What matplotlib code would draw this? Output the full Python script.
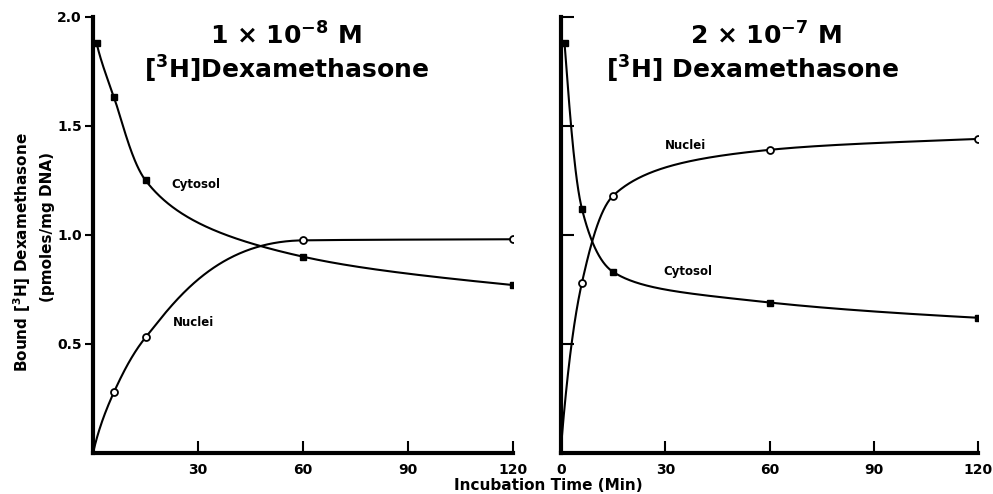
import numpy as np
import matplotlib.pyplot as plt

# incubation times (min) and bound dexamethasone (pmoles/mg DNA)
t_cyto = [1, 6, 15, 60, 120]
t_nuc = [0, 6, 15, 60, 120]

low_cytosol = [1.88, 1.63, 1.25, 0.90, 0.77]
low_nuclei = [0.0, 0.28, 0.53, 0.975, 0.98]

high_cytosol = [1.88, 1.12, 0.83, 0.69, 0.62]
high_nuclei = [0.03, 0.78, 1.18, 1.39, 1.44]

x_ticks_left = [30, 60, 90, 120]
x_ticks_right = [0, 30, 60, 90, 120]
y_ticks = [0.5, 1.0, 1.5, 2.0]
y_ticklabels = ["0.5", "1.0", "1.5", "2.0"]

plt.rcParams['font.family'] = ['DejaVu Sans']
plt.rcParams['font.weight'] = 'bold'


def smooth_line(x, y, xs):
    # monotone hermite drawn in log(t+5) so the line bends like the hand-drawn one
    x = np.log(np.asarray(x, float) + 5)
    xs = np.log(xs + 5)
    y = np.asarray(y, float)
    h = np.diff(x)
    d = np.diff(y) / h
    m = np.zeros_like(y)
    m[0] = d[0]
    m[-1] = d[-1]
    for k in range(1, len(x) - 1):
        if d[k - 1] * d[k] > 0:
            w1 = 2 * h[k] + h[k - 1]
            w2 = h[k] + 2 * h[k - 1]
            m[k] = (w1 + w2) / (w1 / d[k - 1] + w2 / d[k])
    idx = np.clip(np.searchsorted(x, xs) - 1, 0, len(x) - 2)
    hh = h[idx]
    s = (xs - x[idx]) / hh
    h00 = 2 * s**3 - 3 * s**2 + 1
    h10 = s**3 - 2 * s**2 + s
    h01 = -2 * s**3 + 3 * s**2
    h11 = s**3 - s**2
    return h00 * y[idx] + h10 * hh * m[idx] + h01 * y[idx + 1] + h11 * hh * m[idx + 1]


def draw_series(ax, t, vals, filled):
    xs = np.linspace(t[0], t[-1], 600)
    ax.plot(xs, smooth_line(t, vals, xs), color='black', lw=1.5, zorder=2)
    if filled:
        ax.plot(t, vals, ls='none', marker='s', ms=4.5, color='black', zorder=3)
    else:
        ax.plot(t[1:], vals[1:], ls='none', marker='o', ms=5, mfc='white',
                mec='black', mew=1.3, zorder=3)


fig = plt.figure(figsize=(9.93, 4.94), dpi=100)
ax1 = fig.add_axes([0.0937, 0.083, 0.423, 0.883])
ax2 = fig.add_axes([0.565, 0.083, 0.42, 0.883])

for ax in (ax1, ax2):
    ax.set_xlim(0, 120)
    ax.set_ylim(0, 2.0)
    for side in ('top', 'right'):
        ax.spines[side].set_visible(False)
    for side in ('left', 'bottom'):
        ax.spines[side].set_linewidth(3)
    ax.tick_params(axis='x', direction='in', length=9, width=1.5,
                   labelsize=10, pad=7)
    ax.set_yticks(y_ticks)

ax1.set_xticks(x_ticks_left)
ax2.set_xticks(x_ticks_right)
ax1.set_yticklabels(y_ticklabels)
ax1.tick_params(axis='y', direction='out', length=6, width=1.5, labelsize=10, pad=2)
ax2.set_yticklabels([])
ax2.tick_params(axis='y', direction='in', length=9, width=1.5)

draw_series(ax1, t_cyto, low_cytosol, True)
draw_series(ax1, t_nuc, low_nuclei, False)
draw_series(ax2, t_cyto, high_cytosol, True)
draw_series(ax2, t_nuc, high_nuclei, False)

ax1.text(29.4, 1.23, "Cytosol", fontsize=8.5, ha='center', va='center')
ax1.text(28.6, 0.60, "Nuclei", fontsize=8.5, ha='center', va='center')
ax2.text(35.7, 1.41, "Nuclei", fontsize=8.5, ha='center', va='center')
ax2.text(36.5, 0.83, "Cytosol", fontsize=8.5, ha='center', va='center')

ax1.text(0.46, 0.955, r"1 $\times$ 10$^{-8}$ M", transform=ax1.transAxes,
         fontsize=18, ha='center', va='center')
ax1.text(0.46, 0.88, r"[$^3$H]Dexamethasone", transform=ax1.transAxes,
         fontsize=18, ha='center', va='center')
ax2.text(0.49, 0.955, r"2 $\times$ 10$^{-7}$ M", transform=ax2.transAxes,
         fontsize=18, ha='center', va='center')
ax2.text(0.46, 0.88, r"[$^3$H] Dexamethasone", transform=ax2.transAxes,
         fontsize=18, ha='center', va='center')

fig.text(0.022, 0.49, r"Bound [$^3$H] Dexamethasone", rotation=90,
         fontsize=11, ha='center', va='center')
fig.text(0.048, 0.54, "(pmoles/mg DNA)", rotation=90,
         fontsize=11, ha='center', va='center')
fig.text(0.552, 0.018, "Incubation Time (Min)", fontsize=11,
         ha='center', va='center')

fig.savefig("out.png", dpi=100)
